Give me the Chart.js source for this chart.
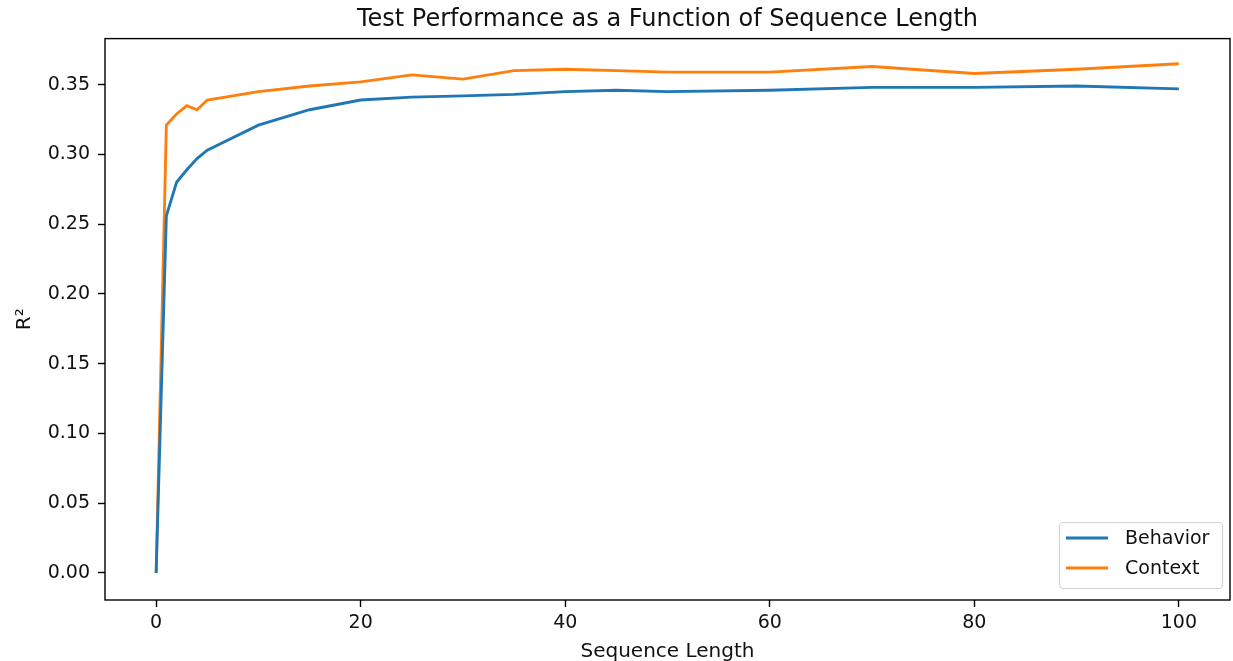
<!DOCTYPE html>
<html>
<head>
<meta charset="utf-8">
<script src="https://cdn.jsdelivr.net/npm/chart.js@4.4.0/dist/chart.umd.min.js"></script>
<style>
html,body{margin:0;padding:0;background:#fff;}
#wrap{width:1233px;height:661px;position:relative;}
</style>
</head>
<body>
<div id="wrap"><canvas id="c" width="1233" height="661"></canvas></div>
<script>
const seqLength = [0, 1, 2, 3, 4, 5, 10, 15, 20, 25, 30, 35, 40, 45, 50, 60, 70, 80, 90, 100];
const behavior  = [0.000, 0.256, 0.280, 0.289, 0.297, 0.303, 0.321, 0.332, 0.339, 0.341, 0.342, 0.343, 0.345, 0.346, 0.345, 0.346, 0.348, 0.348, 0.349, 0.347];
const context   = [0.000, 0.321, 0.329, 0.335, 0.332, 0.339, 0.345, 0.349, 0.352, 0.357, 0.354, 0.360, 0.361, 0.360, 0.359, 0.359, 0.363, 0.358, 0.361, 0.365];
const seriesNames = ['Behavior', 'Context'];
const yTicks = [0.00, 0.05, 0.10, 0.15, 0.20, 0.25, 0.30, 0.35];
const xTicks = [0, 20, 40, 60, 80, 100];

const FONT = "'DejaVu Sans', sans-serif";
const TXT = '#111';
const C1 = '#1f77b4', C2 = '#ff7f0e';

const frame = {
  id: 'frame',
  afterDraw(chart) {
    const {ctx, chartArea: a} = chart;
    ctx.save();
    ctx.strokeStyle = '#000';
    ctx.lineWidth = 1.4;
    ctx.strokeRect(a.left, a.top, a.right - a.left, a.bottom - a.top);
    // legend inside plot, lower right
    const w = 163, h = 66;
    const x0 = a.right - 8 - w, y0 = a.bottom - 12 - h;
    ctx.fillStyle = 'rgba(255,255,255,0.85)';
    ctx.strokeStyle = '#d3d3d3';
    ctx.lineWidth = 1.2;
    ctx.beginPath();
    ctx.roundRect(x0 + 0.5, y0 + 0.5, w, h, 4);
    ctx.fill(); ctx.stroke();
    ctx.font = '19px ' + FONT;
    ctx.textBaseline = 'middle';
    chart.data.datasets.forEach((ds, i) => {
      const yy = y0 + 16 + i * 30;
      ctx.strokeStyle = ds.borderColor;
      ctx.lineWidth = 2.85;
      ctx.beginPath();
      ctx.moveTo(x0 + 7, yy); ctx.lineTo(x0 + 49, yy); ctx.stroke();
      ctx.fillStyle = TXT;
      ctx.fillText(ds.label, x0 + 66, yy + 1);
    });
    ctx.restore();
  }
};

new Chart(document.getElementById('c'), {
  type: 'line',
  data: {
    datasets: [
      { label: seriesNames[0], data: seqLength.map((x, i) => ({x, y: behavior[i]})), borderColor: C1, backgroundColor: C1, borderWidth: 2.85, pointRadius: 0, tension: 0 },
      { label: seriesNames[1], data: seqLength.map((x, i) => ({x, y: context[i]})), borderColor: C2, backgroundColor: C2, borderWidth: 2.85, pointRadius: 0, tension: 0 }
    ]
  },
  options: {
    responsive: false,
    animation: false,
    layout: { padding: { top: 0, right: 3, left: 0, bottom: 0 } },
    plugins: {
      legend: { display: false },
      tooltip: { enabled: false },
      title: {
        display: true,
        fullSize: false,
        text: 'Test Performance as a Function of Sequence Length',
        color: TXT,
        font: { family: FONT, size: 24, weight: 'normal', lineHeight: 1.15 },
        padding: { top: 6, bottom: 5 }
      }
    },
    scales: {
      x: {
        type: 'linear', min: -5, max: 105,
        afterBuildTicks: s => { s.ticks = xTicks.map(v => ({value: v})); },
        ticks: { color: TXT, font: { family: FONT, size: 19 }, padding: 5, maxRotation: 0 },
        grid: { display: true, drawOnChartArea: false, drawTicks: true, tickLength: 7, tickWidth: 1.4, color: '#000' },
        border: { display: false },
        title: { display: true, text: 'Sequence Length', color: TXT, font: { family: FONT, size: 20, lineHeight: 0.9 }, padding: { top: 0, bottom: 0 } },
        afterFit: s => { s.height = 61; }
      },
      y: {
        min: -0.0194, max: 0.383,
        afterBuildTicks: s => { s.ticks = yTicks.map(v => ({value: v})); },
        ticks: { color: TXT, font: { family: FONT, size: 19 }, padding: 8, callback: v => v.toFixed(2) },
        grid: { display: true, drawOnChartArea: false, drawTicks: true, tickLength: 7, tickWidth: 1.4, color: '#000' },
        border: { display: false },
        title: { display: true, text: 'R²', color: TXT, font: { family: FONT, size: 20 }, padding: { top: 13, bottom: 0 } },
        afterFit: s => { s.width = 105; }
      }
    }
  },
  plugins: [frame]
});
</script>
</body>
</html>
